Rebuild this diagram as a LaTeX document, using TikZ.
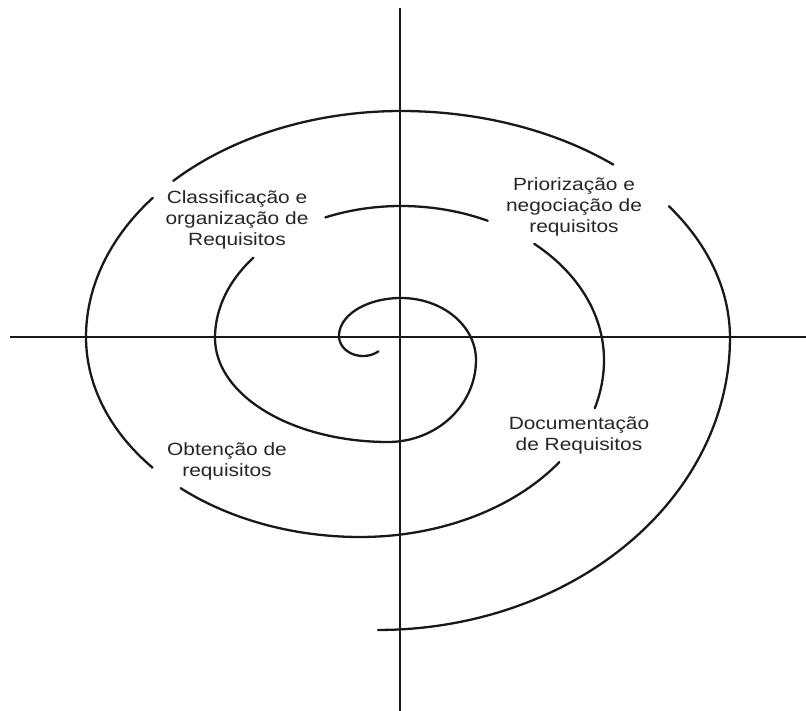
\documentclass[tikz,border=0pt]{standalone}
\usepackage{fontspec}
\setmainfont{Liberation Sans}
\newcommand{\stretchtext}[1]{\scalebox{1.18}[1]{\begin{tabular}{@{}c@{}}#1\end{tabular}}}
\begin{document}
\begin{tikzpicture}[x=1pt,y=-1pt,
  axisline/.style={line width=2pt, draw=black!90},
  spiral/.style={line width=2.3pt, draw=black!90, line join=round, line cap=round},
  ps/.style={smooth, samples=40, variable=\t},
  lbl/.style={inner sep=0pt, text=black!85, font=\fontsize{17.7}{21}\selectfont}]
\useasboundingbox (0,0) rectangle (806,711);
\fill[white] (0,0) rectangle (806,711);
% axes
\coordinate (xl) at (10,337);
\coordinate (xr) at (806,337);
\coordinate (yt) at (400,8);
\coordinate (yb) at (400,711);
\draw[axisline] (xl) -- (xr);
\draw[axisline] (yt) -- (yb);
% spiral, segment 1 (innermost, continuous)
\draw[spiral]
  plot[ps,domain=50:180] ({363+24*cos(\t)},{336+20*sin(\t)})
  -- plot[ps,domain=180:270] ({401+62*cos(\t)},{336+38*sin(\t)})
  -- plot[ps,domain=270:360] ({401+75*cos(\t)},{360+62*sin(\t)})
  -- plot[ps,domain=0:90] ({388+88*cos(\t)},{360+82*sin(\t)})
  -- plot[ps,domain=90:180] ({388+173*cos(\t)},{338+104*sin(\t)})
  -- plot[ps,domain=180:217.5] ({401+186*cos(\t)},{338+132*sin(\t)});
% segment 2
\draw[spiral]
  plot[ps,domain=246:270] ({401+186*cos(\t)},{338+132*sin(\t)})
  -- plot[ps,domain=270:295.3] ({401+203*cos(\t)},{360+154*sin(\t)});
% segment 3
\draw[spiral]
  plot[ps,domain=311:360] ({401+203*cos(\t)},{360+154*sin(\t)})
  -- plot[ps,domain=0:15.8] ({360+244*cos(\t)},{360+177*sin(\t)});
% segment 4
\draw[spiral]
  plot[ps,domain=35.2:90] ({360+244*cos(\t)},{360+177*sin(\t)})
  -- plot[ps,domain=90:130.9] ({360+274*cos(\t)},{337+200*sin(\t)});
% segment 5
\draw[spiral]
  plot[ps,domain=139.2:180] ({360+274*cos(\t)},{337+200*sin(\t)})
  -- plot[ps,domain=180:218] ({401+315*cos(\t)},{337+226*sin(\t)});
% segment 6
\draw[spiral]
  plot[ps,domain=223.7:270] ({401+315*cos(\t)},{337+226*sin(\t)})
  -- plot[ps,domain=270:310.2] ({401+329*cos(\t)},{338+227*sin(\t)});
% segment 7 (outermost)
\draw[spiral]
  plot[ps,domain=324.5:360] ({401+329*cos(\t)},{338+227*sin(\t)})
  -- plot[ps,domain=0:90] ({378+352*cos(\t)},{338+292*sin(\t)});
% labels
\node[lbl] (classif) at (237,220.5) {\stretchtext{Classificação e\\organização de\\Requisitos}};
\node[lbl] (prior) at (574,207.5) {\stretchtext{Priorização e\\negociação de\\requisitos}};
\node[lbl] (obten) at (227,462) {\stretchtext{Obtenção de\\requisitos}};
\node[lbl] (docum) at (579,435.5) {\stretchtext{Documentação\\de Requisitos}};
\end{tikzpicture}
\end{document}
